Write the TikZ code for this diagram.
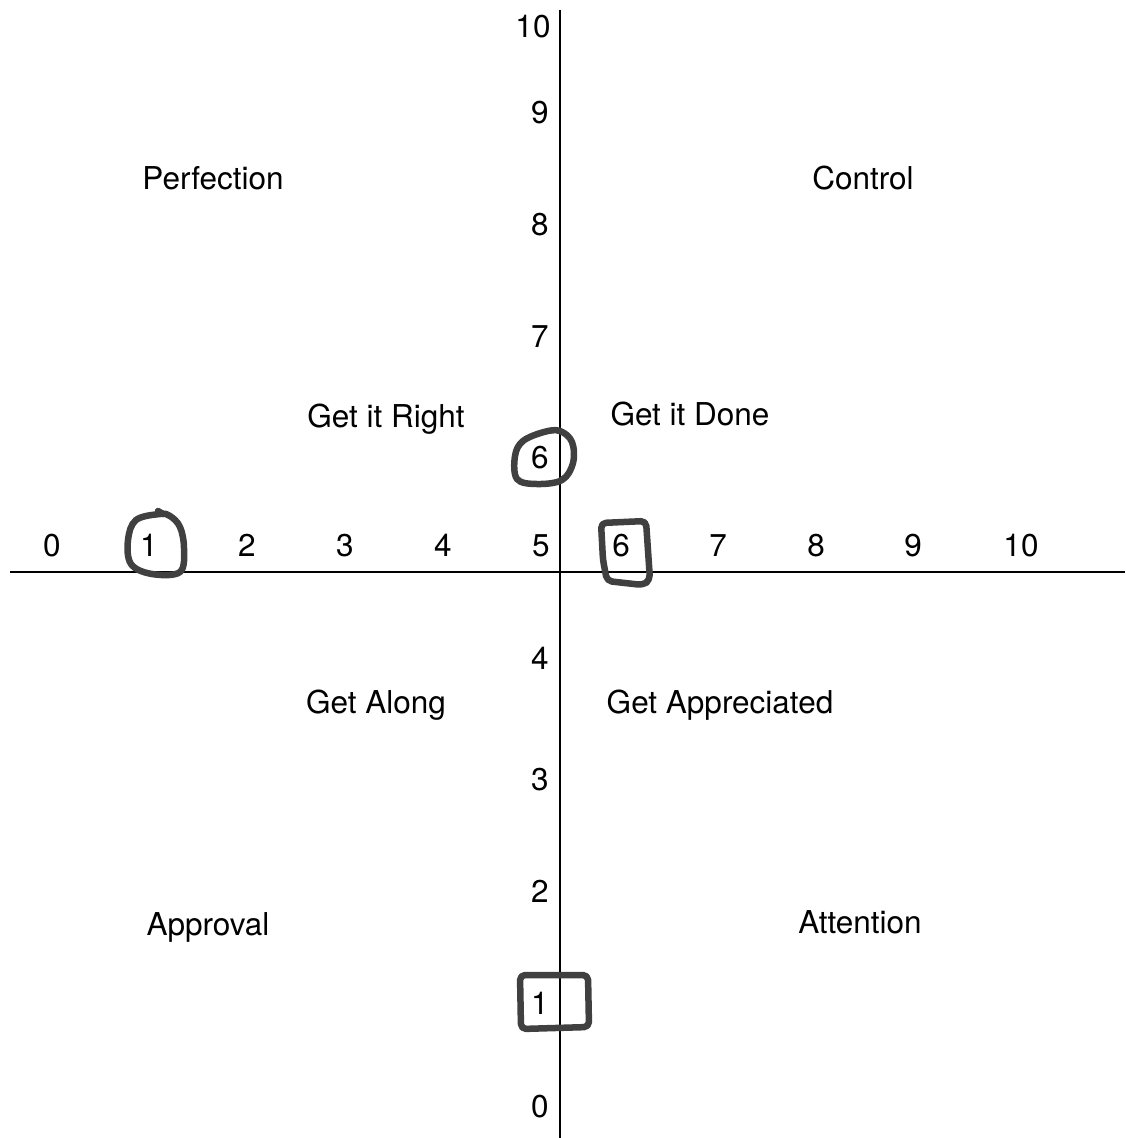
\documentclass[tikz,border=0pt]{standalone}
\usepackage{fontspec}
\setmainfont{TeX Gyre Heros}
\begin{document}
\begin{tikzpicture}[x=1pt,y=-1pt,
  lbl/.style={anchor=base,inner sep=0pt,font=\fontsize{31.5}{36}\selectfont},
  axis/.style={line width=1.4pt,black},
  hand/.style={line width=6.5pt,draw=black!75,line join=round,line cap=round}]
\useasboundingbox (0,0) rectangle (1125,1138);
\fill[white] (0,0) rectangle (1125,1138);
% axes
\coordinate (xl) at (10,572);
\coordinate (xr) at (1125,572);
\coordinate (yt) at (560,10);
\coordinate (yb) at (560,1138);
\draw[axis] (xl) -- (xr);
\draw[axis] (yt) -- (yb);
% horizontal numbers
\node[lbl] (h0) at (52,556) {0};
\node[lbl] (h1) at (149,556) {1};
\node[lbl] (h2) at (247,556) {2};
\node[lbl] (h3) at (345,556) {3};
\node[lbl] (h4) at (443,556) {4};
\node[lbl] (h5) at (541,556) {5};
\node[lbl] (h6) at (621,556) {6};
\node[lbl] (h7) at (718,556) {7};
\node[lbl] (h8) at (816,556) {8};
\node[lbl] (h9) at (913,556) {9};
\node[lbl] (h10) at (1021,556) {10};
% vertical numbers
\node[lbl] (v10) at (533,37) {10};
\node[lbl] (v9) at (540,123) {9};
\node[lbl] (v8) at (540,235) {8};
\node[lbl] (v7) at (540,347) {7};
\node[lbl] (v6) at (540,468) {6};
\node[lbl] (v4) at (540,669) {4};
\node[lbl] (v3) at (540,790) {3};
\node[lbl] (v2) at (540,902) {2};
\node[lbl] (v1) at (540,1014) {1};
\node[lbl] (v0) at (540,1117) {0};
% quadrant labels
\node[lbl] (perf) at (213,189) {Perfection};
\node[lbl] (ctrl) at (863,189) {Control};
\node[lbl] (right) at (386,427) {Get it Right};
\node[lbl] (done) at (690,425) {Get it Done};
\node[lbl] (along) at (376,713) {Get Along};
\node[lbl] (appr) at (720,713) {Get Appreciated};
\node[lbl] (apprv) at (208,935) {Approval};
\node[lbl] (attn) at (860,933) {Attention};
% hand-drawn marks
\draw[hand] plot[smooth cycle,tension=0.6] coordinates {(160,514) (136,520) (128,540) (131,564) (152,574) (180,572) (184,548) (180,527) (170,516)};
\draw[hand] (158,511) -- (163,514);
\draw[hand,rounded corners=5pt] (601,523) -- (646,521) -- (650,580) -- (643,585) -- (607,581) -- (603,560) -- cycle;
\draw[hand] plot[smooth cycle,tension=0.6] coordinates {(560,431) (572,442) (573,463) (562,480) (537,484) (517,479) (515,456) (523,441) (544,432)};
\draw[hand,rounded corners=5pt] (520,975) -- (588,975) -- (589,1027) -- (521,1029) -- cycle;
\end{tikzpicture}
\end{document}
